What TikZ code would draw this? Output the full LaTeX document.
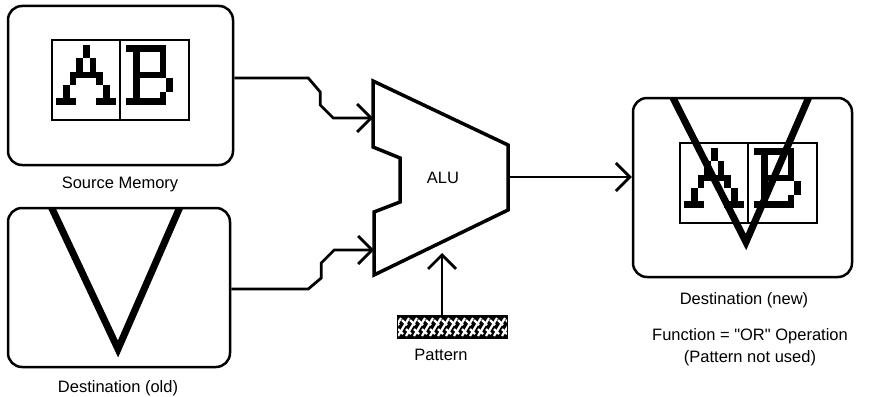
\documentclass[tikz,border=0pt]{standalone}
\usepackage{fontspec}
\setmainfont{Liberation Sans}[Ligatures=TeXOff]
\usetikzlibrary{arrows.meta}

\newcommand\drawAB[2]{%
  \begin{scope}[shift={(#1,#2)}]
    \draw[line width=1.3pt] (0,0) rectangle (137,80);
    \draw[line width=1.3pt] (68,0) -- (68,80);
    \begin{scope}[shift={(4.3,5)}, x=6.67pt, y=-6.67pt]
      \foreach \c/\r/\w/\h in {4/0/1/2, 3/2/1/2, 5/2/1/2, 2/4/5/1, 2/5/1/1, 6/5/1/1, 1/6/1/2, 7/6/1/2, 0/8/3/1, 6/8/3/1}
        \fill (\c,\r) rectangle ++(\w,\h);
    \end{scope}
    \begin{scope}[shift={(74.3,5)}, x=6.67pt, y=-6.67pt]
      \foreach \c/\r/\w/\h in {0/0/6/1, 1/1/1/7, 5/1/1/3, 2/4/4/1, 6/5/1/2, 5/7/1/1, 0/8/6/1}
        \fill (\c,\r) rectangle ++(\w,\h);
    \end{scope}
  \end{scope}}

\begin{document}
\begin{tikzpicture}[x=1pt,y=-1pt,
  box/.style={draw, line width=2.5pt, rounded corners=14pt, inner sep=0pt},
  lbl/.style={font=\fontsize{16.5}{19}\selectfont, inner sep=0pt},
  conn/.style={line width=2.8pt, -{Straight Barb[length=14pt,width=28pt,line width=2.8pt]}},
  vline/.style={line width=7pt, line join=miter}]
\useasboundingbox (0,0) rectangle (872,396);

% boxes
\node[box, minimum width=225pt, minimum height=159pt] (src) at (120.5,85.5) {};
\node[box, minimum width=222pt, minimum height=159pt] (dold) at (119,287.5) {};
\node[box, minimum width=219pt, minimum height=179pt] (dnew) at (742.5,187.5) {};

% contents
\drawAB{52}{40}
\begin{scope}
  \clip (0,209) rectangle (300,396);
  \draw[vline] (48,200) -- (118,349) -- (183,200);
\end{scope}
\drawAB{680}{143}
\begin{scope}
  \clip (600,99) rectangle (872,396);
  \draw[vline] (669,90) -- (746,242) -- (812,90);
\end{scope}

% ALU
\draw[line width=3.5pt, line join=miter] (373,81) -- (508,145) -- (508,210) -- (374,275) -- (374,212) -- (400,202) -- (400,158) -- (373,147) -- cycle;
\node[lbl] (alu) at (443,178) {ALU};
\coordinate (aluA) at (373,118);
\coordinate (aluB) at (374,250);
\coordinate (aluC) at (442,253);
\coordinate (aluO) at (508,177);

% pattern bar
\node[inner sep=0pt, minimum width=109pt, minimum height=22pt] (pat) at (452.5,327) {};
\begin{scope}
  \clip (398,316) rectangle (507,338);
  \fill (398,316) rectangle (507,338);
  \foreach \i in {0,...,14} {
    \draw[white, line width=2.2pt] (390+8*\i,336) -- ++(11,-18);
    \draw[white, line width=2.2pt] (394+8*\i,320) -- ++(5,5);
    \draw[white, line width=2.2pt] (398+8*\i,329) -- ++(5,5);
  }
\end{scope}
\draw[line width=1.2pt] (pat.north west) rectangle (pat.south east);

% connectors
\draw[conn] ([yshift=7.5pt]src.east) -- ++(74,0) -- ++(12,14) -- ++(0,13) -- ++(13,13) -- (aluA);
\draw[conn] ([yshift=-1.5pt]dold.east) -- ++(77,0) -- ++(13,-11) -- ++(0,-15) -- ++(13,-13) -- (aluB);
\draw[conn] (aluO) -- (dnew.west |- aluO);
\draw[conn] (pat.north -| aluC) -- (aluC);

% labels
\node[lbl] (lsrc) at (120,184) {Source Memory};
\node[lbl] (lold) at (118,388) {Destination (old)};
\node[lbl] (lpat) at (441,355) {Pattern};
\node[lbl] (lnew) at (744,300) {Destination (new)};
\node[lbl] (lfun) at (750,336) {Function = "OR" Operation};
\node[lbl] (lnot) at (750,358) {(Pattern not used)};
\end{tikzpicture}
\end{document}
